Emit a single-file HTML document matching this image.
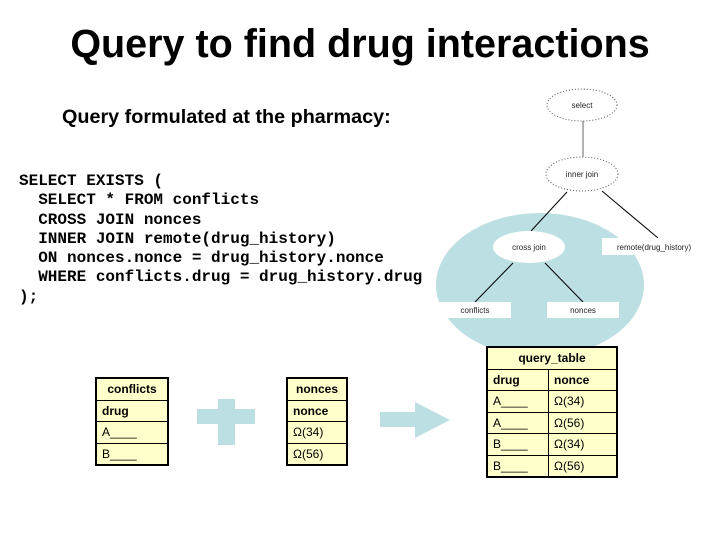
<!DOCTYPE html>
<html><head><meta charset="utf-8"><style>
body{margin:0;width:720px;height:540px;background:#fff;position:relative;overflow:hidden;font-family:"Liberation Sans",sans-serif}
.a{position:absolute}
.title{left:0;width:720px;text-align:center;top:22px;font-size:39.5px;font-weight:bold}
.sub{left:62px;top:106px;font-size:19.8px;font-weight:bold}
.code{left:19px;top:172px;font-family:"Liberation Mono",monospace;font-weight:bold;font-size:16px;line-height:19.3px;white-space:pre}
table{position:absolute;border-collapse:collapse;background:#ffffcc;border:2px solid #000;font-size:12px}
td{border:1px solid #000;padding:0 5px;height:20.5px}
.h{font-weight:bold;text-align:center}
.b{font-weight:bold}
</style></head><body>
<div class="a title">Query to find drug interactions</div>
<div class="a sub">Query formulated at the pharmacy:</div>
<div class="a code">SELECT EXISTS (
  SELECT * FROM conflicts
  CROSS JOIN nonces
  INNER JOIN remote(drug_history)
  ON nonces.nonce = drug_history.nonce
  WHERE conflicts.drug = drug_history.drug
);</div>
<svg class="a" style="left:0;top:0" width="720" height="540">
<ellipse cx="540" cy="285" rx="104" ry="72" fill="#bcdfe3"/>
<g stroke="#000" stroke-width="1">
<line x1="583" y1="121" x2="583" y2="157" stroke="#666"/>
<line x1="567" y1="192" x2="531" y2="231"/>
<line x1="602" y1="191" x2="658" y2="238"/>
<line x1="513" y1="263" x2="475" y2="302"/>
<line x1="545" y1="263" x2="583" y2="302"/>
</g>
<ellipse cx="582" cy="105" rx="35" ry="16" fill="#fff" stroke="#555" stroke-dasharray="1,2"/>
<ellipse cx="582" cy="174" rx="36" ry="17" fill="#fff" stroke="#555" stroke-dasharray="1,2"/>
<ellipse cx="529" cy="247" rx="36" ry="16" fill="#fff"/>
<rect x="602" y="238" width="118" height="17" fill="#fff"/>
<rect x="439" y="302" width="72" height="16" fill="#fff"/>
<rect x="547" y="302" width="72" height="16" fill="#fff"/>
<g font-family="Liberation Sans" font-size="8" text-anchor="middle" fill="#222">
<text x="582" y="108">select</text>
<text x="582" y="177">inner join</text>
<text x="529" y="250">cross join</text>
<text x="654" y="250">remote(drug_history)</text>
<text x="475" y="313">conflicts</text>
<text x="583" y="313">nonces</text>
</g>
<g fill="#bcdfe3">
<rect x="218" y="399" width="17" height="46"/>
<rect x="197" y="409" width="58" height="15"/>
<rect x="380" y="412" width="36" height="15"/>
<polygon points="415,402 450,420 415,438"/>
</g>
</svg>
<table style="left:95px;top:377px;width:74px">
<tr><td class="h">conflicts</td></tr><tr><td class="b">drug</td></tr><tr><td>A____</td></tr><tr><td>B____</td></tr></table>
<table style="left:286px;top:377px;width:62px">
<tr><td class="h">nonces</td></tr><tr><td class="b">nonce</td></tr><tr><td>Ω(34)</td></tr><tr><td>Ω(56)</td></tr></table>
<table style="left:486px;top:346px;width:132px">
<tr><td class="h" colspan="2">query_table</td></tr>
<tr><td class="b" style="width:50px">drug</td><td class="b">nonce</td></tr>
<tr><td>A____</td><td>Ω(34)</td></tr><tr><td>A____</td><td>Ω(56)</td></tr>
<tr><td>B____</td><td>Ω(34)</td></tr><tr><td>B____</td><td>Ω(56)</td></tr></table>
</body></html>
